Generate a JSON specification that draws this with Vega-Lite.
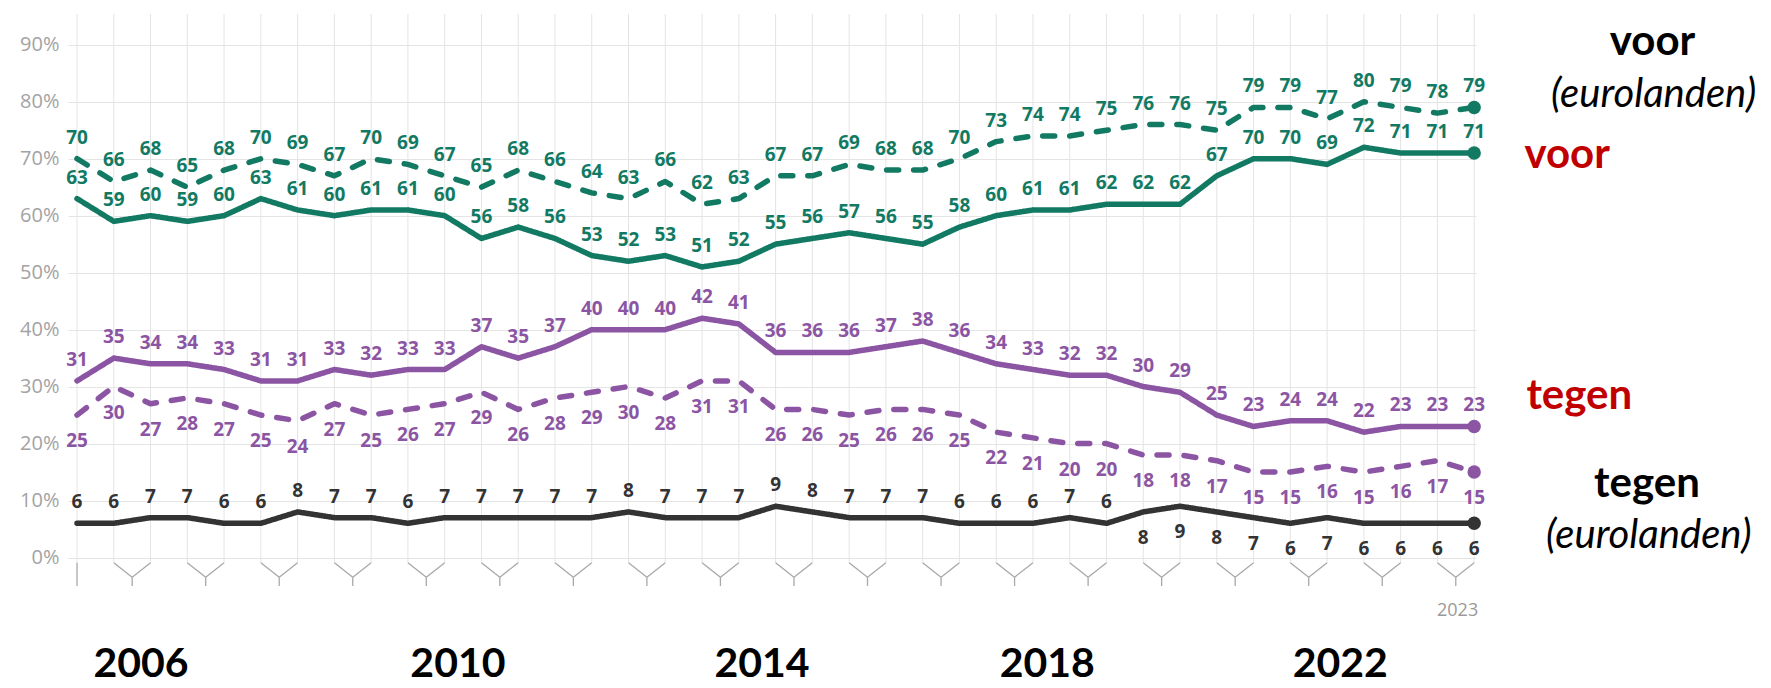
{
  "$schema": "https://vega.github.io/schema/vega-lite/v6.json",
  "width": 1408,
  "height": 572,
  "autosize": {"type": "none"},
  "padding": {"left": 68, "top": 14, "right": 295, "bottom": 102},
  "background": "white",
  "config": {"view": {"stroke": null}},
  "datasets": {
    "series": [
      {"s":"voor (eurolanden)","i":0,"v":70},{"s":"voor (eurolanden)","i":1,"v":66},{"s":"voor (eurolanden)","i":2,"v":68},{"s":"voor (eurolanden)","i":3,"v":65},{"s":"voor (eurolanden)","i":4,"v":68},{"s":"voor (eurolanden)","i":5,"v":70},{"s":"voor (eurolanden)","i":6,"v":69},{"s":"voor (eurolanden)","i":7,"v":67},{"s":"voor (eurolanden)","i":8,"v":70},{"s":"voor (eurolanden)","i":9,"v":69},{"s":"voor (eurolanden)","i":10,"v":67},{"s":"voor (eurolanden)","i":11,"v":65},{"s":"voor (eurolanden)","i":12,"v":68},{"s":"voor (eurolanden)","i":13,"v":66},{"s":"voor (eurolanden)","i":14,"v":64},{"s":"voor (eurolanden)","i":15,"v":63},{"s":"voor (eurolanden)","i":16,"v":66},{"s":"voor (eurolanden)","i":17,"v":62},{"s":"voor (eurolanden)","i":18,"v":63},{"s":"voor (eurolanden)","i":19,"v":67},{"s":"voor (eurolanden)","i":20,"v":67},{"s":"voor (eurolanden)","i":21,"v":69},{"s":"voor (eurolanden)","i":22,"v":68},{"s":"voor (eurolanden)","i":23,"v":68},{"s":"voor (eurolanden)","i":24,"v":70},{"s":"voor (eurolanden)","i":25,"v":73},{"s":"voor (eurolanden)","i":26,"v":74},{"s":"voor (eurolanden)","i":27,"v":74},{"s":"voor (eurolanden)","i":28,"v":75},{"s":"voor (eurolanden)","i":29,"v":76},{"s":"voor (eurolanden)","i":30,"v":76},{"s":"voor (eurolanden)","i":31,"v":75},{"s":"voor (eurolanden)","i":32,"v":79},{"s":"voor (eurolanden)","i":33,"v":79},{"s":"voor (eurolanden)","i":34,"v":77},{"s":"voor (eurolanden)","i":35,"v":80},{"s":"voor (eurolanden)","i":36,"v":79},{"s":"voor (eurolanden)","i":37,"v":78},{"s":"voor (eurolanden)","i":38,"v":79},
      {"s":"voor","i":0,"v":63},{"s":"voor","i":1,"v":59},{"s":"voor","i":2,"v":60},{"s":"voor","i":3,"v":59},{"s":"voor","i":4,"v":60},{"s":"voor","i":5,"v":63},{"s":"voor","i":6,"v":61},{"s":"voor","i":7,"v":60},{"s":"voor","i":8,"v":61},{"s":"voor","i":9,"v":61},{"s":"voor","i":10,"v":60},{"s":"voor","i":11,"v":56},{"s":"voor","i":12,"v":58},{"s":"voor","i":13,"v":56},{"s":"voor","i":14,"v":53},{"s":"voor","i":15,"v":52},{"s":"voor","i":16,"v":53},{"s":"voor","i":17,"v":51},{"s":"voor","i":18,"v":52},{"s":"voor","i":19,"v":55},{"s":"voor","i":20,"v":56},{"s":"voor","i":21,"v":57},{"s":"voor","i":22,"v":56},{"s":"voor","i":23,"v":55},{"s":"voor","i":24,"v":58},{"s":"voor","i":25,"v":60},{"s":"voor","i":26,"v":61},{"s":"voor","i":27,"v":61},{"s":"voor","i":28,"v":62},{"s":"voor","i":29,"v":62},{"s":"voor","i":30,"v":62},{"s":"voor","i":31,"v":67},{"s":"voor","i":32,"v":70},{"s":"voor","i":33,"v":70},{"s":"voor","i":34,"v":69},{"s":"voor","i":35,"v":72},{"s":"voor","i":36,"v":71},{"s":"voor","i":37,"v":71},{"s":"voor","i":38,"v":71},
      {"s":"tegen","i":0,"v":31},{"s":"tegen","i":1,"v":35},{"s":"tegen","i":2,"v":34},{"s":"tegen","i":3,"v":34},{"s":"tegen","i":4,"v":33},{"s":"tegen","i":5,"v":31},{"s":"tegen","i":6,"v":31},{"s":"tegen","i":7,"v":33},{"s":"tegen","i":8,"v":32},{"s":"tegen","i":9,"v":33},{"s":"tegen","i":10,"v":33},{"s":"tegen","i":11,"v":37},{"s":"tegen","i":12,"v":35},{"s":"tegen","i":13,"v":37},{"s":"tegen","i":14,"v":40},{"s":"tegen","i":15,"v":40},{"s":"tegen","i":16,"v":40},{"s":"tegen","i":17,"v":42},{"s":"tegen","i":18,"v":41},{"s":"tegen","i":19,"v":36},{"s":"tegen","i":20,"v":36},{"s":"tegen","i":21,"v":36},{"s":"tegen","i":22,"v":37},{"s":"tegen","i":23,"v":38},{"s":"tegen","i":24,"v":36},{"s":"tegen","i":25,"v":34},{"s":"tegen","i":26,"v":33},{"s":"tegen","i":27,"v":32},{"s":"tegen","i":28,"v":32},{"s":"tegen","i":29,"v":30},{"s":"tegen","i":30,"v":29},{"s":"tegen","i":31,"v":25},{"s":"tegen","i":32,"v":23},{"s":"tegen","i":33,"v":24},{"s":"tegen","i":34,"v":24},{"s":"tegen","i":35,"v":22},{"s":"tegen","i":36,"v":23},{"s":"tegen","i":37,"v":23},{"s":"tegen","i":38,"v":23},
      {"s":"tegen (eurolanden)","i":0,"v":25},{"s":"tegen (eurolanden)","i":1,"v":30},{"s":"tegen (eurolanden)","i":2,"v":27},{"s":"tegen (eurolanden)","i":3,"v":28},{"s":"tegen (eurolanden)","i":4,"v":27},{"s":"tegen (eurolanden)","i":5,"v":25},{"s":"tegen (eurolanden)","i":6,"v":24},{"s":"tegen (eurolanden)","i":7,"v":27},{"s":"tegen (eurolanden)","i":8,"v":25},{"s":"tegen (eurolanden)","i":9,"v":26},{"s":"tegen (eurolanden)","i":10,"v":27},{"s":"tegen (eurolanden)","i":11,"v":29},{"s":"tegen (eurolanden)","i":12,"v":26},{"s":"tegen (eurolanden)","i":13,"v":28},{"s":"tegen (eurolanden)","i":14,"v":29},{"s":"tegen (eurolanden)","i":15,"v":30},{"s":"tegen (eurolanden)","i":16,"v":28},{"s":"tegen (eurolanden)","i":17,"v":31},{"s":"tegen (eurolanden)","i":18,"v":31},{"s":"tegen (eurolanden)","i":19,"v":26},{"s":"tegen (eurolanden)","i":20,"v":26},{"s":"tegen (eurolanden)","i":21,"v":25},{"s":"tegen (eurolanden)","i":22,"v":26},{"s":"tegen (eurolanden)","i":23,"v":26},{"s":"tegen (eurolanden)","i":24,"v":25},{"s":"tegen (eurolanden)","i":25,"v":22},{"s":"tegen (eurolanden)","i":26,"v":21},{"s":"tegen (eurolanden)","i":27,"v":20},{"s":"tegen (eurolanden)","i":28,"v":20},{"s":"tegen (eurolanden)","i":29,"v":18},{"s":"tegen (eurolanden)","i":30,"v":18},{"s":"tegen (eurolanden)","i":31,"v":17},{"s":"tegen (eurolanden)","i":32,"v":15},{"s":"tegen (eurolanden)","i":33,"v":15},{"s":"tegen (eurolanden)","i":34,"v":16},{"s":"tegen (eurolanden)","i":35,"v":15},{"s":"tegen (eurolanden)","i":36,"v":16},{"s":"tegen (eurolanden)","i":37,"v":17},{"s":"tegen (eurolanden)","i":38,"v":15},
      {"s":"weet niet","i":0,"v":6},{"s":"weet niet","i":1,"v":6},{"s":"weet niet","i":2,"v":7},{"s":"weet niet","i":3,"v":7},{"s":"weet niet","i":4,"v":6},{"s":"weet niet","i":5,"v":6},{"s":"weet niet","i":6,"v":8},{"s":"weet niet","i":7,"v":7},{"s":"weet niet","i":8,"v":7},{"s":"weet niet","i":9,"v":6},{"s":"weet niet","i":10,"v":7},{"s":"weet niet","i":11,"v":7},{"s":"weet niet","i":12,"v":7},{"s":"weet niet","i":13,"v":7},{"s":"weet niet","i":14,"v":7},{"s":"weet niet","i":15,"v":8},{"s":"weet niet","i":16,"v":7},{"s":"weet niet","i":17,"v":7},{"s":"weet niet","i":18,"v":7},{"s":"weet niet","i":19,"v":9},{"s":"weet niet","i":20,"v":8},{"s":"weet niet","i":21,"v":7},{"s":"weet niet","i":22,"v":7},{"s":"weet niet","i":23,"v":7},{"s":"weet niet","i":24,"v":6},{"s":"weet niet","i":25,"v":6},{"s":"weet niet","i":26,"v":6},{"s":"weet niet","i":27,"v":7},{"s":"weet niet","i":28,"v":6},{"s":"weet niet","i":29,"v":8},{"s":"weet niet","i":30,"v":9},{"s":"weet niet","i":31,"v":8},{"s":"weet niet","i":32,"v":7},{"s":"weet niet","i":33,"v":6},{"s":"weet niet","i":34,"v":7},{"s":"weet niet","i":35,"v":6},{"s":"weet niet","i":36,"v":6},{"s":"weet niet","i":37,"v":6},{"s":"weet niet","i":38,"v":6}
    ],
    "pairs": [
      {"i":1.5},{"i":3.5},{"i":5.5},{"i":7.5},{"i":9.5},{"i":11.5},{"i":13.5},{"i":15.5},{"i":17.5},{"i":19.5},{"i":21.5},{"i":23.5},{"i":25.5},{"i":27.5},{"i":29.5},{"i":31.5},{"i":33.5},{"i":35.5},{"i":37.5}
    ],
    "notes": [
      {"kind":"bold","label":"voor","i":42.85,"v":88.25},
      {"kind":"italic","label":"(eurolanden)","i":42.88,"v":79.1},
      {"kind":"red","label":"voor","i":40.53,"v":68.4},
      {"kind":"red","label":"tegen","i":40.86,"v":26},
      {"kind":"bold","label":"tegen","i":42.7,"v":10.7},
      {"kind":"italic","label":"(eurolanden)","i":42.75,"v":1.75},
      {"kind":"year","label":"2006","i":1.74,"v":-21},
      {"kind":"year","label":"2010","i":10.36,"v":-21},
      {"kind":"year","label":"2014","i":18.63,"v":-21},
      {"kind":"year","label":"2018","i":26.39,"v":-21},
      {"kind":"year","label":"2022","i":34.36,"v":-21},
      {"kind":"small","label":"2023","i":37.55,"v":-10.35}
    ]
  },
  "layer": [
    {
      "data": {"name": "series"},
      "transform": [{"filter": "datum.s == 'voor'"}],
      "mark": {"type": "rule", "color": "#e4e4e4", "strokeWidth": 1},
      "encoding": {
        "x": {"field": "i", "type": "quantitative", "scale": {"domain": [-0.245, 38.05], "nice": false, "zero": false}, "axis": null},
        "y": {"datum": -0.9, "type": "quantitative", "scale": {"domain": [-5, 95.4], "nice": false, "zero": false},
          "axis": {"values": [0,10,20,30,40,50,60,70,80,90], "labelExpr": "datum.value + '%'", "title": null, "domain": false, "ticks": false,
            "grid": true, "gridColor": "#e4e4e4", "gridWidth": 1, "labelFont": "Open Sans", "labelFontSize": 20, "labelColor": "#a3a3a3", "labelPadding": 9}},
        "y2": {"datum": 95.4}
      }
    },
    {
      "data": {"name": "pairs"},
      "mark": {"type": "rule", "color": "#a8a8a8", "strokeWidth": 1.3, "xOffset": -18.4, "x2Offset": 0, "yOffset": 0, "y2Offset": 14.5},
      "encoding": {
        "x": {"field": "i", "type": "quantitative"},
        "x2": {"field": "i"},
        "y": {"datum": -0.9, "type": "quantitative"},
        "y2": {"datum": -0.9}
      }
    },
    {
      "data": {"name": "pairs"},
      "mark": {"type": "rule", "color": "#a8a8a8", "strokeWidth": 1.3, "xOffset": 18.4, "x2Offset": 0, "yOffset": 0, "y2Offset": 14.5},
      "encoding": {
        "x": {"field": "i", "type": "quantitative"},
        "x2": {"field": "i"},
        "y": {"datum": -0.9, "type": "quantitative"},
        "y2": {"datum": -0.9}
      }
    },
    {
      "data": {"name": "pairs"},
      "mark": {"type": "rule", "color": "#a8a8a8", "strokeWidth": 1.3, "yOffset": 14.5},
      "encoding": {
        "x": {"field": "i", "type": "quantitative"},
        "y": {"datum": -0.9, "type": "quantitative"},
        "y2": {"datum": -5}
      }
    },
    {
      "data": {"name": "pairs"},
      "transform": [{"filter": "datum.i == 1.5"}],
      "mark": {"type": "rule", "color": "#a8a8a8", "strokeWidth": 1.3},
      "encoding": {"x": {"datum": 0, "type": "quantitative"}, "y": {"datum": -0.9, "type": "quantitative"}, "y2": {"datum": -5}}
    },
    {
      "data": {"name": "series"},
      "mark": {"type": "line", "strokeWidth": 5.5, "strokeCap": "round", "strokeJoin": "round"},
      "encoding": {
        "x": {"field": "i", "type": "quantitative"},
        "y": {"field": "v", "type": "quantitative"},
        "color": {"field": "s", "type": "nominal", "legend": null,
          "scale": {"domain": ["voor (eurolanden)", "voor", "tegen", "tegen (eurolanden)", "weet niet"], "range": ["#127a63", "#127a63", "#8b55a3", "#8b55a3", "#333333"]}},
        "strokeDash": {"field": "s", "type": "nominal", "legend": null,
          "scale": {"domain": ["voor (eurolanden)", "voor", "tegen", "tegen (eurolanden)", "weet niet"], "range": [[12, 15], [1, 0], [1, 0], [12, 15], [1, 0]]}},
        "order": {"field": "i"}
      }
    },
    {
      "data": {"name": "series"},
      "transform": [{"filter": "datum.i == 38"}],
      "mark": {"type": "point", "filled": true, "size": 180, "opacity": 1},
      "encoding": {"x": {"field": "i", "type": "quantitative"}, "y": {"field": "v", "type": "quantitative"}, "color": {"field": "s", "type": "nominal", "legend": null}}
    },
    {
      "data": {"name": "series"},
      "transform": [{"filter": "!(datum.s == 'tegen (eurolanden)' || (datum.s == 'weet niet' && datum.i >= 29))"}],
      "mark": {"type": "text", "dy": -21, "font": "Open Sans", "fontWeight": "bold", "fontSize": 19, "baseline": "middle"},
      "encoding": {"x": {"field": "i", "type": "quantitative"}, "y": {"field": "v", "type": "quantitative"}, "text": {"field": "v"}, "color": {"field": "s", "type": "nominal", "legend": null}}
    },
    {
      "data": {"name": "series"},
      "transform": [{"filter": "datum.s == 'tegen (eurolanden)' || (datum.s == 'weet niet' && datum.i >= 29)"}],
      "mark": {"type": "text", "dy": 26, "font": "Open Sans", "fontWeight": "bold", "fontSize": 19, "baseline": "middle"},
      "encoding": {"x": {"field": "i", "type": "quantitative"}, "y": {"field": "v", "type": "quantitative"}, "text": {"field": "v"}, "color": {"field": "s", "type": "nominal", "legend": null}}
    },
    {
      "data": {"name": "notes"},
      "transform": [{"filter": "datum.kind == 'bold'"}],
      "mark": {"type": "text", "font": "Lato", "fontWeight": "bold", "fontSize": 42, "color": "#000000", "align": "center", "baseline": "alphabetic"},
      "encoding": {"x": {"field": "i", "type": "quantitative"}, "y": {"field": "v", "type": "quantitative"}, "text": {"field": "label"}}
    },
    {
      "data": {"name": "notes"},
      "transform": [{"filter": "datum.kind == 'italic'"}],
      "mark": {"type": "text", "font": "Lato", "fontStyle": "italic", "fontSize": 40, "color": "#000000", "align": "center", "baseline": "alphabetic"},
      "encoding": {"x": {"field": "i", "type": "quantitative"}, "y": {"field": "v", "type": "quantitative"}, "text": {"field": "label"}}
    },
    {
      "data": {"name": "notes"},
      "transform": [{"filter": "datum.kind == 'red'"}],
      "mark": {"type": "text", "font": "Lato", "fontWeight": "bold", "fontSize": 42, "color": "#c00000", "align": "center", "baseline": "alphabetic"},
      "encoding": {"x": {"field": "i", "type": "quantitative"}, "y": {"field": "v", "type": "quantitative"}, "text": {"field": "label"}}
    },
    {
      "data": {"name": "notes"},
      "transform": [{"filter": "datum.kind == 'year'"}],
      "mark": {"type": "text", "font": "Lato", "fontWeight": "bold", "fontSize": 41, "color": "#000000", "align": "center", "baseline": "alphabetic"},
      "encoding": {"x": {"field": "i", "type": "quantitative"}, "y": {"field": "v", "type": "quantitative"}, "text": {"field": "label"}}
    },
    {
      "data": {"name": "notes"},
      "transform": [{"filter": "datum.kind == 'small'"}],
      "mark": {"type": "text", "font": "Open Sans", "fontSize": 18, "color": "#9a9a9a", "align": "center", "baseline": "alphabetic"},
      "encoding": {"x": {"field": "i", "type": "quantitative"}, "y": {"field": "v", "type": "quantitative"}, "text": {"field": "label"}}
    }
  ]
}
